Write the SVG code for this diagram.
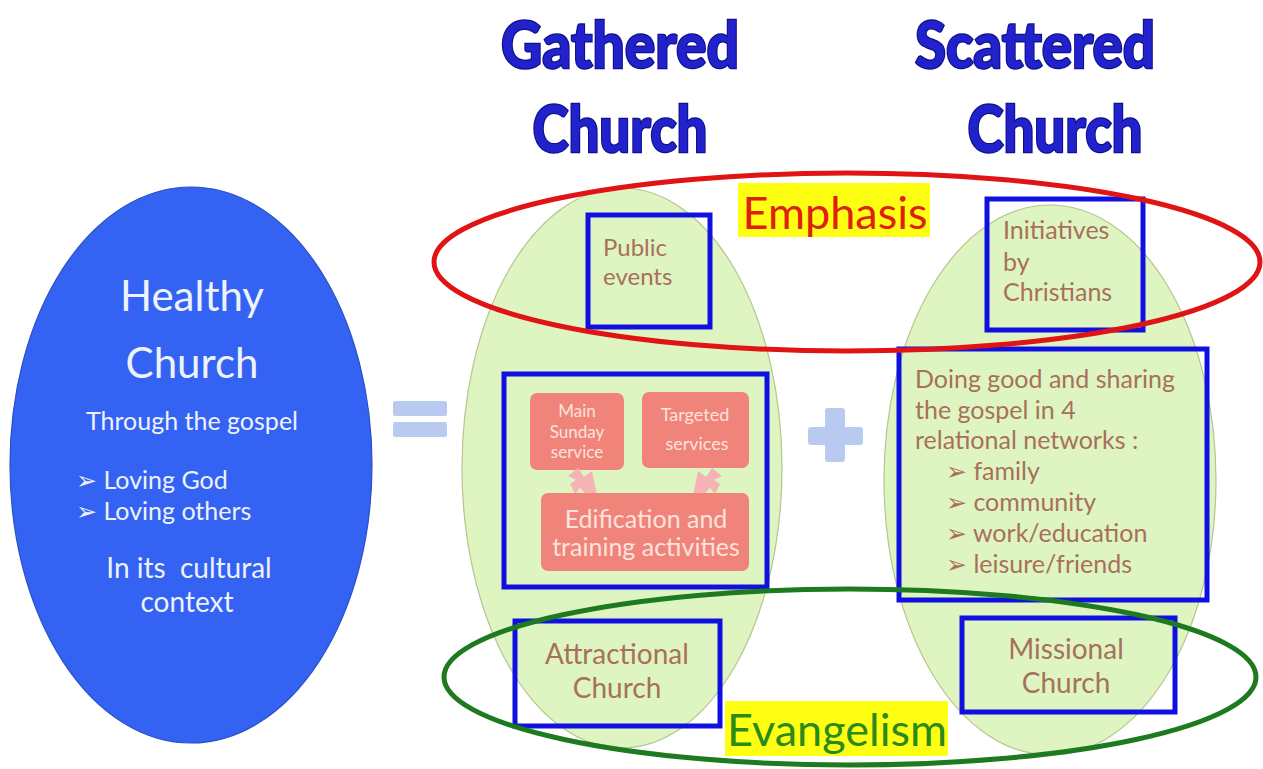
<svg xmlns="http://www.w3.org/2000/svg" width="1263" height="769" viewBox="0 0 1263 769">
<style>
.t{font-family:Lato,"Open Sans","Liberation Sans",sans-serif}
.title{font-family:Lato,"Liberation Sans",sans-serif;font-weight:900;font-size:64px;fill:#2222cc;stroke:#10108a;stroke-width:2.5px;paint-order:stroke}
.wh{fill:#eef2fb}
.br{fill:#a8705a}
.bbox{fill:none;stroke:#1010e0;stroke-width:5}
.egg{fill:#def5c2;stroke:#b5c58e;stroke-width:1.2}
.sal{fill:#f0837a}
.st{fill:#fde3dc}
.pk{fill:#f6b3b6}
.lb{fill:#b9caf0}
</style>
<rect width="1263" height="769" fill="#ffffff"/>
<g id="title-gathered">
<text class="title" x="620" y="68" text-anchor="middle" textLength="238" lengthAdjust="spacingAndGlyphs">Gathered</text>
<text class="title" x="620" y="152" text-anchor="middle" textLength="175" lengthAdjust="spacingAndGlyphs">Church</text>
</g>
<g id="title-scattered">
<text class="title" x="1035" y="68" text-anchor="middle" textLength="240" lengthAdjust="spacingAndGlyphs">Scattered</text>
<text class="title" x="1055" y="152" text-anchor="middle" textLength="175" lengthAdjust="spacingAndGlyphs">Church</text>
</g>
<g id="healthy-church">
<ellipse cx="191" cy="465" rx="181" ry="278" fill="#3463f4" stroke="#2a50c8" stroke-width="1.2"/>
<text class="t wh" x="192" y="311" text-anchor="middle" font-size="42">Healthy</text>
<text class="t wh" x="192" y="378" text-anchor="middle" font-size="42">Church</text>
<text class="t wh" x="192" y="430" text-anchor="middle" font-size="25">Through the gospel</text>
<text class="t wh" x="76" y="489" font-size="25">➢ Loving God</text>
<text class="t wh" x="76" y="520" font-size="25">➢ Loving others</text>
<text class="t wh" x="189" y="578" text-anchor="middle" font-size="28" xml:space="preserve">In its  cultural</text>
<text class="t wh" x="187" y="612" text-anchor="middle" font-size="28">context</text>
</g>
<g id="equals">
<rect class="lb" x="393" y="401" width="54" height="15" rx="2"/>
<rect class="lb" x="393" y="422" width="54" height="15" rx="2"/>
</g>
<g id="gathered-egg">
<ellipse class="egg" cx="622" cy="468" rx="160" ry="280"/>
</g>
<g id="scattered-egg">
<ellipse class="egg" cx="1050" cy="480" rx="166" ry="275"/>
</g>
<g id="plus">
<rect class="lb" x="825" y="408" width="20" height="54" rx="3"/>
<rect class="lb" x="808" y="427" width="55" height="18" rx="3"/>
</g>
<g id="public-events">
<rect class="bbox" x="588" y="215" width="122" height="112"/>
<text class="t br" x="603" y="256" font-size="24">Public</text>
<text class="t br" x="603" y="285" font-size="24">events</text>
</g>
<g id="initiatives">
<rect class="bbox" x="987" y="199" width="156" height="131"/>
<text class="t br" x="1003" y="239" font-size="25">Initiatives</text>
<text class="t br" x="1003" y="271" font-size="25">by</text>
<text class="t br" x="1003" y="301" font-size="25">Christians</text>
</g>
<g id="edification-group">
<rect class="bbox" x="504" y="374" width="263" height="213"/>
</g>
<g id="main-sunday">
<rect class="sal" x="530" y="393" width="94" height="77" rx="7"/>
<text class="t st" x="577" y="417" text-anchor="middle" font-size="17">Main</text>
<text class="t st" x="577" y="438" text-anchor="middle" font-size="17">Sunday</text>
<text class="t st" x="577" y="458" text-anchor="middle" font-size="17">service</text>
</g>
<g id="targeted">
<rect class="sal" x="642" y="392" width="107" height="76" rx="7"/>
<text class="t st" x="695" y="421" text-anchor="middle" font-size="18">Targeted</text>
<text class="t st" x="697" y="450" text-anchor="middle" font-size="18">services</text>
</g>
<g id="connectors">
<polygon class="pk" points="568,476 578,468 584,477 592,471 597,496 582,500 586,494 580,488 575,494 570,484 576,480"/>
<polygon class="pk" points="722,476 712,468 706,477 698,471 693,496 708,500 704,494 710,488 715,494 720,484 714,480"/>
</g>
<g id="edification">
<rect class="sal" x="541" y="493" width="208" height="78" rx="7"/>
<text class="t st" x="646" y="528" text-anchor="middle" font-size="25">Edification and</text>
<text class="t st" x="646" y="556" text-anchor="middle" font-size="25">training activities</text>
</g>
<g id="doing-good">
<rect class="bbox" x="899" y="349" width="308" height="251"/>
<text class="t br" x="915" y="388" font-size="25">Doing good and sharing</text>
<text class="t br" x="915" y="419" font-size="25">the gospel in 4</text>
<text class="t br" x="915" y="449" font-size="25">relational networks :</text>
<text class="t br" x="946" y="480" font-size="25">➢ family</text>
<text class="t br" x="946" y="511" font-size="25">➢ community</text>
<text class="t br" x="946" y="542" font-size="25">➢ work/education</text>
<text class="t br" x="946" y="573" font-size="25">➢ leisure/friends</text>
</g>
<g id="attractional">
<rect class="bbox" x="515" y="621" width="205" height="105"/>
<text class="t br" x="617" y="664" text-anchor="middle" font-size="28">Attractional</text>
<text class="t br" x="617" y="698" text-anchor="middle" font-size="28">Church</text>
</g>
<g id="missional">
<rect class="bbox" x="962" y="618" width="213" height="94"/>
<text class="t br" x="1066" y="659" text-anchor="middle" font-size="28">Missional</text>
<text class="t br" x="1066" y="693" text-anchor="middle" font-size="28">Church</text>
</g>
<g id="emphasis">
<ellipse cx="847" cy="262" rx="413" ry="89" fill="none" stroke="#e01414" stroke-width="5"/>
<rect x="738" y="183" width="192" height="54" fill="#ffff14"/>
<text class="t" x="835" y="229" text-anchor="middle" font-size="45" fill="#e0200c">Emphasis</text>
</g>
<g id="evangelism">
<ellipse cx="850" cy="677" rx="406" ry="88" fill="none" stroke="#1e7a1e" stroke-width="5"/>
<rect x="725" y="701" width="223" height="55" fill="#ffff14"/>
<text class="t" x="837" y="746" text-anchor="middle" font-size="45" fill="#2a8a1a">Evangelism</text>
</g>
</svg>
